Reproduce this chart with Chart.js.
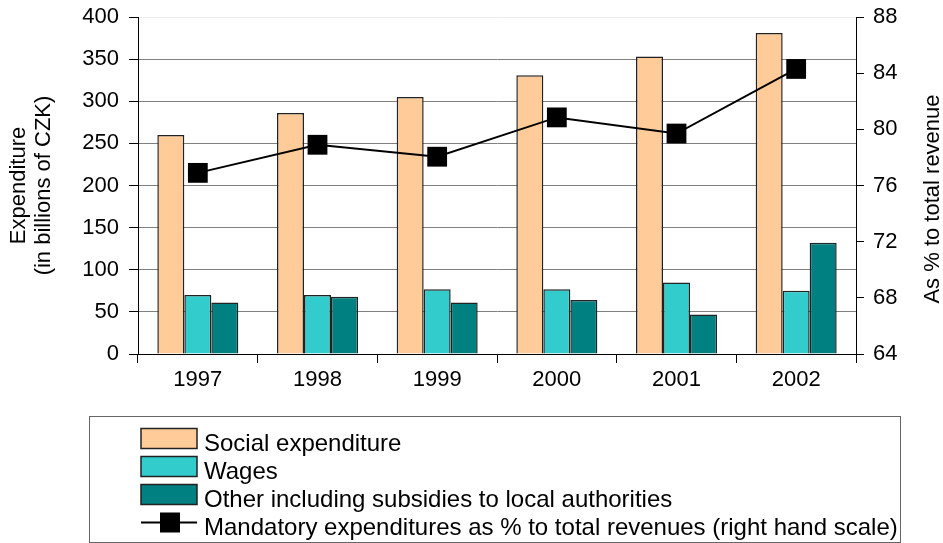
<!DOCTYPE html>
<html>
<head>
<meta charset="utf-8">
<script src="https://cdn.jsdelivr.net/npm/chart.js@4/dist/chart.umd.min.js"></script>
<style>
  html, body { margin: 0; padding: 0; background: #fff; }
  #wrap { width: 943px; height: 543px; position: relative; }
</style>
</head>
<body>
<div id="wrap"><canvas id="chart"></canvas></div>
<script>
const years = ['1997', '1998', '1999', '2000', '2001', '2002'];
const socialExp = [260, 286, 305, 331, 353, 381];
const wages = [70, 70, 77, 77, 85, 75];
const otherExp = [61, 68, 61, 64, 47, 132];
const mandatoryPct = [76.9, 78.9, 78.05, 80.85, 79.7, 84.3];

const font = 'Liberation Sans, Arial, sans-serif';

// legend box + right axis title drawn by hand (boxed, left-aligned legend)
const extras = {
    id: 'extras',
    afterDraw(chart) {
        const ctx = chart.ctx;
        ctx.save();
        // right title, reads bottom to top
        ctx.fillStyle = '#000';
        ctx.font = '22px ' + font;
        ctx.textAlign = 'center';
        ctx.textBaseline = 'middle';
        ctx.translate(933, 199);
        ctx.rotate(-Math.PI / 2);
        ctx.fillText('As % to total revenue', 0, 0);
        ctx.restore();

        ctx.save();
        ctx.strokeStyle = '#666';
        ctx.lineWidth = 1;
        ctx.strokeRect(89.5, 416.5, 811, 126);
        ctx.font = '24px ' + font;
        ctx.textBaseline = 'alphabetic';
        ctx.textAlign = 'left';
        const ds = chart.data.datasets;
        const order = [1, 2, 3, 0];
        order.forEach((idx, i) => {
            const d = ds[idx];
            const cy = 438.5 + i * 28;
            if (d.type === 'line') {
                ctx.strokeStyle = '#000';
                ctx.lineWidth = 2;
                ctx.beginPath();
                ctx.moveTo(141, cy);
                ctx.lineTo(197, cy);
                ctx.stroke();
                ctx.fillStyle = '#000';
                ctx.fillRect(160, cy - 10, 20, 20);
            } else {
                ctx.fillStyle = d.backgroundColor;
                ctx.fillRect(141, cy - 10, 56, 20);
                ctx.strokeStyle = '#222';
                ctx.lineWidth = 1.5;
                ctx.strokeRect(141, cy - 10, 56, 20);
            }
            ctx.fillStyle = '#000';
            ctx.fillText(d.label, 204, cy + 12);
        });
        ctx.restore();
    }
};

const noPad = s => { s.paddingTop = 0; s.paddingBottom = 0; };

new Chart(document.getElementById('chart'), {
    type: 'bar',
    data: {
        labels: years,
        datasets: [
            { type: 'line', label: 'Mandatory expenditures as % to total revenues (right hand scale)', data: mandatoryPct, yAxisID: 'y1',
              borderColor: '#000', borderWidth: 2, pointStyle: 'rect', pointRadius: 14, pointHoverRadius: 14,
              pointBackgroundColor: '#000', pointBorderColor: '#000', pointBorderWidth: 0, tension: 0, order: 0 },
            { label: 'Social expenditure', data: socialExp, backgroundColor: '#FFCC99', borderColor: '#222', borderWidth: 1.5, order: 1 },
            { label: 'Wages', data: wages, backgroundColor: '#33CCCC', borderColor: '#222', borderWidth: 1.5, order: 1 },
            { label: 'Other including subsidies to local authorities', data: otherExp, backgroundColor: '#008080', borderColor: '#222', borderWidth: 1.5, order: 1 }
        ]
    },
    options: {
        responsive: true, maintainAspectRatio: false, animation: false,
        datasets: { bar: { barPercentage: 1, categoryPercentage: 0.677 } },
        layout: { padding: { top: 17, bottom: 149, left: 0, right: 0 } },
        plugins: { legend: { display: false }, tooltip: { enabled: false } },
        scales: {
            x: {
                offset: true,
                grid: { offset: true, drawOnChartArea: false, tickLength: 9, tickColor: '#000' },
                border: { color: '#000', width: 1 },
                ticks: { color: '#000', font: { family: font, size: 22 }, padding: 4 },
                afterFit: s => { s.height = 40; s.paddingLeft = 0; s.paddingRight = 0; }
            },
            y: {
                position: 'left', min: 0, max: 400,
                ticks: { stepSize: 50, color: '#000', font: { family: font, size: 22 }, padding: 10 },
                grid: { color: c => c.tick && c.tick.value === 400 ? '#eeeeee' : '#808080', tickColor: '#000', tickLength: 9, lineWidth: 1 },
                border: { color: '#000', width: 1 },
                title: { display: true, text: ['Expenditure', '(in billions of CZK)'], color: '#000', font: { family: font, size: 22, lineHeight: 1.15 }, padding: 6 },
                afterFit: s => { s.width = 138; noPad(s); }
            },
            y1: {
                position: 'right', min: 64, max: 88,
                ticks: { stepSize: 4, color: '#000', font: { family: font, size: 22 }, padding: 9 },
                grid: { drawOnChartArea: false, tickColor: '#000', tickLength: 8 },
                border: { color: '#000', width: 1 },
                afterFit: s => { s.width = 87; noPad(s); }
            }
        }
    },
    plugins: [extras]
});
</script>
</body>
</html>
